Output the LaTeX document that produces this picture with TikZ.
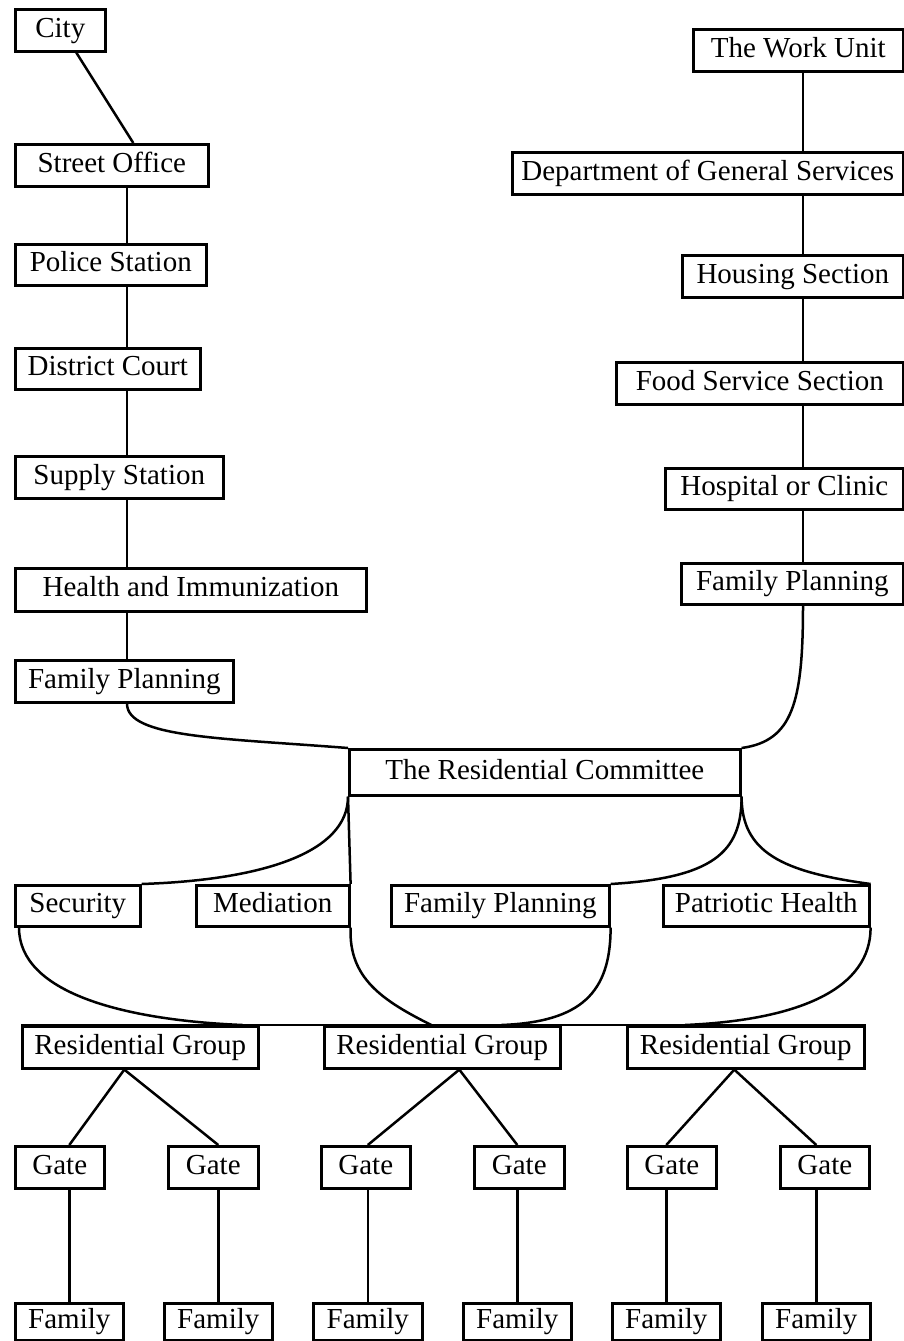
\documentclass[tikz,border=0pt]{standalone}
\usepackage{fontspec}
\setmainfont{Liberation Serif}
\usepackage{tikz}

\tikzset{
  unit/.style={draw, line width=2.6pt, inner sep=0pt, anchor=north west, minimum height=42pt,
    text height=20pt, text depth=6pt},
  link/.style={line width=2.5pt}
}

\begin{document}
\begin{tikzpicture}[x=1pt, y=-1pt, font=\fontsize{29}{34}\selectfont]

\useasboundingbox (0,0) rectangle (903,1341);

\coordinate (lcol) at (127,0);
\coordinate (rcol) at (803,0);

% city side
\node[unit, minimum width=90pt] (city) at (14,8) {City};
\node[unit, minimum width=193pt] (street) at (14,143) {Street Office};
\node[unit, minimum width=191pt, minimum height=41pt] (police) at (14,243) {Police Station};
\node[unit, minimum width=185pt, minimum height=41pt] (court) at (14,347) {District Court};
\node[unit, minimum width=208pt] (supply) at (14,455) {Supply Station};
\node[unit, minimum width=351pt, minimum height=43pt] (health) at (14,567) {Health and Immunization};
\node[unit, minimum width=218pt] (fpL) at (14,659) {Family Planning};

% work unit side
\node[unit, minimum width=210pt] (work) at (692,28) {The Work Unit};
\node[unit, minimum width=391pt] (dgs) at (511,151) {Department of General Services};
\node[unit, minimum width=221pt] (housing) at (681,254) {Housing Section};
\node[unit, minimum width=287pt] (food) at (615,361) {Food Service Section};
\node[unit, minimum width=238pt, minimum height=41pt] (hospital) at (664,467) {Hospital or Clinic};
\node[unit, minimum width=222pt, minimum height=41pt] (fpR) at (680,562) {Family Planning};

\node[unit, minimum width=391pt, minimum height=46pt] (rc) at (348,748) {The Residential Committee};

\node[unit, minimum width=125pt, minimum height=41pt] (security) at (14,884) {Security};
\node[unit, minimum width=153pt, minimum height=41pt] (mediation) at (195,884) {Mediation};
\node[unit, minimum width=218pt, minimum height=41pt] (fpS) at (390,884) {Family Planning};
\node[unit, minimum width=206pt, minimum height=41pt] (patriotic) at (662,884) {Patriotic Health};

\node[unit, minimum width=236pt] (rg1) at (21,1025) {Residential Group};
\node[unit, minimum width=236pt] (rg2) at (323,1025) {Residential Group};
\node[unit, minimum width=237pt] (rg3) at (626,1025) {Residential Group};

\node[unit, minimum width=89pt] (g1) at (14,1145) {Gate};
\node[unit, minimum width=90pt] (g2) at (167,1145) {Gate};
\node[unit, minimum width=89pt] (g3) at (320,1145) {Gate};
\node[unit, minimum width=90pt] (g4) at (473,1145) {Gate};
\node[unit, minimum width=89pt] (g5) at (626,1145) {Gate};
\node[unit, minimum width=89pt] (g6) at (779,1145) {Gate};

\node[unit, minimum width=108pt, minimum height=37pt] (f1) at (14,1302) {Family};
\node[unit, minimum width=108pt, minimum height=37pt] (f2) at (163,1302) {Family};
\node[unit, minimum width=109pt, minimum height=37pt] (f3) at (312,1302) {Family};
\node[unit, minimum width=108pt, minimum height=37pt] (f4) at (462,1302) {Family};
\node[unit, minimum width=108pt, minimum height=37pt] (f5) at (611,1302) {Family};
\node[unit, minimum width=108pt, minimum height=37pt] (f6) at (761,1302) {Family};

% left chain
\draw[link] ([xshift=16pt]city.south) -- ([xshift=21.5pt]street.north);
\draw[link] (street.south -| lcol) -- (police.north -| lcol);
\draw[link] (police.south -| lcol) -- (court.north -| lcol);
\draw[link] (court.south -| lcol) -- (supply.north -| lcol);
\draw[link] (supply.south -| lcol) -- (health.north -| lcol);
\draw[link] (health.south -| lcol) -- (fpL.north -| lcol);

% right chain
\draw[link] (work.south -| rcol) -- (dgs.north -| rcol);
\draw[link] (dgs.south -| rcol) -- (housing.north -| rcol);
\draw[link] (housing.south -| rcol) -- (food.north -| rcol);
\draw[link] (food.south -| rcol) -- (hospital.north -| rcol);
\draw[link] (hospital.south -| rcol) -- (fpR.north -| rcol);

% into the committee
\draw[link] (fpL.south -| lcol) .. controls +(0,34) and +(-128,-10) .. (rc.north west);
\draw[link] (fpR.south -| rcol) .. controls +(0,97) and +(51,-7) .. (rc.north east);

% committee to sub-committees
\draw[link] (rc.south west) .. controls +(0,56) and +(121,-4) .. (security.north east);
\draw[link] (rc.south west) -- (mediation.north east);
\draw[link] (rc.south east) .. controls +(0,56) and +(102,-6) .. (fpS.north east);
\draw[link] (rc.south east) .. controls +(0,56) and +(-88,-12) .. (patriotic.north east);

% sub-committees to groups
\draw[link] (rg1.north west) -- (rg3.north east);
\draw[link] ([xshift=5pt]security.south west) .. controls +(0,65) and +(-120,-5) .. ([xshift=-17pt]rg1.north east);
\draw[link] (mediation.south east) .. controls +(-2,50) and +(-50,-25) .. ([xshift=-11pt]rg2.north);
\draw[link] (fpS.south east) .. controls +(0,65) and +(80,-3) .. ([xshift=59pt]rg2.north);
\draw[link] (patriotic.south east) .. controls +(0,60) and +(117,-5) .. ([xshift=-61pt]rg3.north);

% groups to gates
\draw[link] ([xshift=-16pt]rg1.south) -- (g1.north -| f1.north);
\draw[link] ([xshift=-16pt]rg1.south) -- (g2.north -| f2.north);
\draw[link] ([xshift=17pt]rg2.south) -- (g3.north -| f3.north);
\draw[link] ([xshift=17pt]rg2.south) -- (g4.north -| f4.north);
\draw[link] ([xshift=-11.5pt]rg3.south) -- (g5.north -| f5.north);
\draw[link] ([xshift=-11.5pt]rg3.south) -- (g6.north -| f6.north);

% gates to families
\draw[link] (g1.south -| f1.north) -- (f1.north);
\draw[link] (g2.south -| f2.north) -- (f2.north);
\draw[link] (g3.south -| f3.north) -- (f3.north);
\draw[link] (g4.south -| f4.north) -- (f4.north);
\draw[link] (g5.south -| f5.north) -- (f5.north);
\draw[link] (g6.south -| f6.north) -- (f6.north);

\end{tikzpicture}
\end{document}
